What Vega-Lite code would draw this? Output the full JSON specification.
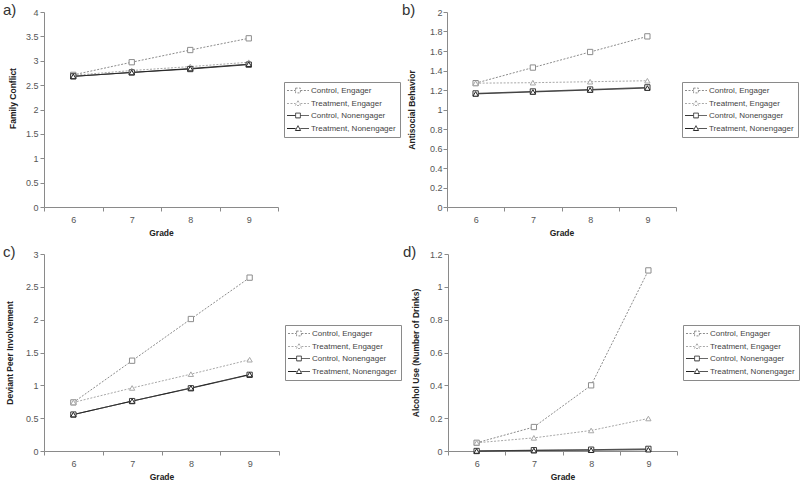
{
  "$schema": "https://vega.github.io/schema/vega-lite/v6.json",
  "background": "white",
  "padding": {"left": 3, "top": 3, "right": 0, "bottom": 0},
  "config": {
    "font": "Liberation Sans, Arial, sans-serif",
    "view": {"stroke": null},
    "axis": {"grid": false, "domainColor": "#8a8a8a", "tickColor": "#8a8a8a", "tickSize": 4, "labelColor": "#555555", "labelFontSize": 9, "titleFontSize": 8.5, "titleFontWeight": "bold", "titleColor": "#222222", "labelPadding": 2, "titlePadding": 8},
    "axisX": {"labelPadding": 4, "titlePadding": 4},
    "legend": {"labelFontSize": 8, "labelColor": "#444444", "strokeColor": "#8a8a8a", "fillColor": "white", "padding": 4, "rowPadding": 3, "symbolSize": 64, "symbolStrokeWidth": 1, "symbolOffset": 5.5, "labelOffset": 8.5, "labelLimit": 200},
    "title": {"fontSize": 15, "fontWeight": "normal", "color": "#333333", "anchor": "start", "frame": "group", "offset": -10}
  },
  "datasets": {
    "a": [
      {"grade": 6, "value": 2.71, "series": "Control, Engager", "condition": "Control", "engagement": "Engager"},
      {"grade": 7, "value": 2.97, "series": "Control, Engager", "condition": "Control", "engagement": "Engager"},
      {"grade": 8, "value": 3.22, "series": "Control, Engager", "condition": "Control", "engagement": "Engager"},
      {"grade": 9, "value": 3.46, "series": "Control, Engager", "condition": "Control", "engagement": "Engager"},
      {"grade": 6, "value": 2.70, "series": "Treatment, Engager", "condition": "Treatment", "engagement": "Engager"},
      {"grade": 7, "value": 2.80, "series": "Treatment, Engager", "condition": "Treatment", "engagement": "Engager"},
      {"grade": 8, "value": 2.88, "series": "Treatment, Engager", "condition": "Treatment", "engagement": "Engager"},
      {"grade": 9, "value": 2.97, "series": "Treatment, Engager", "condition": "Treatment", "engagement": "Engager"},
      {"grade": 6, "value": 2.68, "series": "Control, Nonengager", "condition": "Control", "engagement": "Nonengager"},
      {"grade": 7, "value": 2.76, "series": "Control, Nonengager", "condition": "Control", "engagement": "Nonengager"},
      {"grade": 8, "value": 2.83, "series": "Control, Nonengager", "condition": "Control", "engagement": "Nonengager"},
      {"grade": 9, "value": 2.92, "series": "Control, Nonengager", "condition": "Control", "engagement": "Nonengager"},
      {"grade": 6, "value": 2.68, "series": "Treatment, Nonengager", "condition": "Treatment", "engagement": "Nonengager"},
      {"grade": 7, "value": 2.76, "series": "Treatment, Nonengager", "condition": "Treatment", "engagement": "Nonengager"},
      {"grade": 8, "value": 2.84, "series": "Treatment, Nonengager", "condition": "Treatment", "engagement": "Nonengager"},
      {"grade": 9, "value": 2.93, "series": "Treatment, Nonengager", "condition": "Treatment", "engagement": "Nonengager"}
    ],
    "b": [
      {"grade": 6, "value": 1.27, "series": "Control, Engager", "condition": "Control", "engagement": "Engager"},
      {"grade": 7, "value": 1.43, "series": "Control, Engager", "condition": "Control", "engagement": "Engager"},
      {"grade": 8, "value": 1.59, "series": "Control, Engager", "condition": "Control", "engagement": "Engager"},
      {"grade": 9, "value": 1.75, "series": "Control, Engager", "condition": "Control", "engagement": "Engager"},
      {"grade": 6, "value": 1.27, "series": "Treatment, Engager", "condition": "Treatment", "engagement": "Engager"},
      {"grade": 7, "value": 1.275, "series": "Treatment, Engager", "condition": "Treatment", "engagement": "Engager"},
      {"grade": 8, "value": 1.285, "series": "Treatment, Engager", "condition": "Treatment", "engagement": "Engager"},
      {"grade": 9, "value": 1.295, "series": "Treatment, Engager", "condition": "Treatment", "engagement": "Engager"},
      {"grade": 6, "value": 1.165, "series": "Control, Nonengager", "condition": "Control", "engagement": "Nonengager"},
      {"grade": 7, "value": 1.185, "series": "Control, Nonengager", "condition": "Control", "engagement": "Nonengager"},
      {"grade": 8, "value": 1.205, "series": "Control, Nonengager", "condition": "Control", "engagement": "Nonengager"},
      {"grade": 9, "value": 1.227, "series": "Control, Nonengager", "condition": "Control", "engagement": "Nonengager"},
      {"grade": 6, "value": 1.16, "series": "Treatment, Nonengager", "condition": "Treatment", "engagement": "Nonengager"},
      {"grade": 7, "value": 1.18, "series": "Treatment, Nonengager", "condition": "Treatment", "engagement": "Nonengager"},
      {"grade": 8, "value": 1.20, "series": "Treatment, Nonengager", "condition": "Treatment", "engagement": "Nonengager"},
      {"grade": 9, "value": 1.22, "series": "Treatment, Nonengager", "condition": "Treatment", "engagement": "Nonengager"}
    ],
    "c": [
      {"grade": 6, "value": 0.74, "series": "Control, Engager", "condition": "Control", "engagement": "Engager"},
      {"grade": 7, "value": 1.375, "series": "Control, Engager", "condition": "Control", "engagement": "Engager"},
      {"grade": 8, "value": 2.01, "series": "Control, Engager", "condition": "Control", "engagement": "Engager"},
      {"grade": 9, "value": 2.64, "series": "Control, Engager", "condition": "Control", "engagement": "Engager"},
      {"grade": 6, "value": 0.74, "series": "Treatment, Engager", "condition": "Treatment", "engagement": "Engager"},
      {"grade": 7, "value": 0.96, "series": "Treatment, Engager", "condition": "Treatment", "engagement": "Engager"},
      {"grade": 8, "value": 1.17, "series": "Treatment, Engager", "condition": "Treatment", "engagement": "Engager"},
      {"grade": 9, "value": 1.39, "series": "Treatment, Engager", "condition": "Treatment", "engagement": "Engager"},
      {"grade": 6, "value": 0.555, "series": "Control, Nonengager", "condition": "Control", "engagement": "Nonengager"},
      {"grade": 7, "value": 0.76, "series": "Control, Nonengager", "condition": "Control", "engagement": "Nonengager"},
      {"grade": 8, "value": 0.955, "series": "Control, Nonengager", "condition": "Control", "engagement": "Nonengager"},
      {"grade": 9, "value": 1.16, "series": "Control, Nonengager", "condition": "Control", "engagement": "Nonengager"},
      {"grade": 6, "value": 0.555, "series": "Treatment, Nonengager", "condition": "Treatment", "engagement": "Nonengager"},
      {"grade": 7, "value": 0.76, "series": "Treatment, Nonengager", "condition": "Treatment", "engagement": "Nonengager"},
      {"grade": 8, "value": 0.96, "series": "Treatment, Nonengager", "condition": "Treatment", "engagement": "Nonengager"},
      {"grade": 9, "value": 1.165, "series": "Treatment, Nonengager", "condition": "Treatment", "engagement": "Nonengager"}
    ],
    "d": [
      {"grade": 6, "value": 0.05, "series": "Control, Engager", "condition": "Control", "engagement": "Engager"},
      {"grade": 7, "value": 0.146, "series": "Control, Engager", "condition": "Control", "engagement": "Engager"},
      {"grade": 8, "value": 0.40, "series": "Control, Engager", "condition": "Control", "engagement": "Engager"},
      {"grade": 9, "value": 1.10, "series": "Control, Engager", "condition": "Control", "engagement": "Engager"},
      {"grade": 6, "value": 0.05, "series": "Treatment, Engager", "condition": "Treatment", "engagement": "Engager"},
      {"grade": 7, "value": 0.08, "series": "Treatment, Engager", "condition": "Treatment", "engagement": "Engager"},
      {"grade": 8, "value": 0.125, "series": "Treatment, Engager", "condition": "Treatment", "engagement": "Engager"},
      {"grade": 9, "value": 0.198, "series": "Treatment, Engager", "condition": "Treatment", "engagement": "Engager"},
      {"grade": 6, "value": 0.0, "series": "Control, Nonengager", "condition": "Control", "engagement": "Nonengager"},
      {"grade": 7, "value": 0.005, "series": "Control, Nonengager", "condition": "Control", "engagement": "Nonengager"},
      {"grade": 8, "value": 0.008, "series": "Control, Nonengager", "condition": "Control", "engagement": "Nonengager"},
      {"grade": 9, "value": 0.013, "series": "Control, Nonengager", "condition": "Control", "engagement": "Nonengager"},
      {"grade": 6, "value": 0.0, "series": "Treatment, Nonengager", "condition": "Treatment", "engagement": "Nonengager"},
      {"grade": 7, "value": 0.003, "series": "Treatment, Nonengager", "condition": "Treatment", "engagement": "Nonengager"},
      {"grade": 8, "value": 0.005, "series": "Treatment, Nonengager", "condition": "Treatment", "engagement": "Nonengager"},
      {"grade": 9, "value": 0.008, "series": "Treatment, Nonengager", "condition": "Treatment", "engagement": "Nonengager"}
    ]
  },
  "resolve": {"scale": {"color": "independent", "shape": "independent", "strokeDash": "independent", "y": "independent", "x": "independent"}, "legend": {"color": "independent", "shape": "independent", "strokeDash": "independent"}},
  "spacing": 8,
  "vconcat": [
    {
      "spacing": 1,
      "resolve": {"scale": {"color": "independent", "shape": "independent", "strokeDash": "independent", "y": "independent", "x": "independent"}, "legend": {"color": "independent", "shape": "independent", "strokeDash": "independent"}},
      "hconcat": [
        {
          "title": {"text": "a)", "dx": -41},
          "width": 234, "height": 195,
          "data": {"name": "a"},
          "encoding": {
            "x": {"field": "grade", "type": "ordinal", "scale": {"type": "band", "paddingInner": 0, "paddingOuter": 0}, "axis": {"title": "Grade", "labelAngle": 0, "tickBand": "extent"}},
            "y": {"field": "value", "type": "quantitative", "scale": {"domain": [0, 4]}, "axis": {"title": "Family Conflict", "titlePadding": 8, "titleY": 86, "values": [0, 0.5, 1, 1.5, 2, 2.5, 3, 3.5, 4], "format": "~g"}},
            "color": {"field": "series", "type": "nominal", "scale": {"domain": ["Control, Engager", "Treatment, Engager", "Control, Nonengager", "Treatment, Nonengager"], "range": ["#8c8c8c", "#a8a8a8", "#3a3a3a", "#222222"]},
              "legend": {"title": null, "orient": "none", "legendX": 240, "legendY": 70,
                "encode": {"symbols": {"update": {"shape": {"signal": "indexof(['Control, Engager','Control, Nonengager'], datum.value) >= 0 ? 'M-2.75,0H-0.6M0.6,0H2.75M-0.6,-0.6H0.6V0.6H-0.6Z' : 'M-2.75,0H-0.6M0.6,0H2.75M0,-0.7L0.65,0.5H-0.65Z'"}, "strokeDash": {"signal": "indexof(['Control, Engager','Treatment, Engager'], datum.value) >= 0 ? [2, 1.5] : [1, 0]"}, "fill": {"value": "white"}, "strokeWidth": {"value": 1}}}}}}
          },
          "layer": [
            {"mark": {"type": "line", "strokeWidth": 1}, "encoding": {"strokeDash": {"field": "engagement", "type": "nominal", "legend": null, "scale": {"domain": ["Engager", "Nonengager"], "range": [[2, 1.5], [1, 0]]}}}},
            {"mark": {"type": "point", "filled": false, "fill": "white", "fillOpacity": 1, "opacity": 1, "size": 28, "strokeWidth": 1}, "encoding": {"shape": {"field": "condition", "type": "nominal", "legend": null, "scale": {"domain": ["Control", "Treatment"], "range": ["square", "triangle-up"]}}}}
          ]
        },
        {
          "title": {"text": "b)", "dx": -45},
          "width": 229, "height": 195,
          "data": {"name": "b"},
          "encoding": {
            "x": {"field": "grade", "type": "ordinal", "scale": {"type": "band", "paddingInner": 0, "paddingOuter": 0}, "axis": {"title": "Grade", "labelAngle": 0, "tickBand": "extent"}},
            "y": {"field": "value", "type": "quantitative", "scale": {"domain": [0, 2]}, "axis": {"title": "Antisocial Behavior", "titlePadding": 13, "labelPadding": 1, "values": [0, 0.2, 0.4, 0.6, 0.8, 1, 1.2, 1.4, 1.6, 1.8, 2], "format": "~g"}},
            "color": {"field": "series", "type": "nominal", "scale": {"domain": ["Control, Engager", "Treatment, Engager", "Control, Nonengager", "Treatment, Nonengager"], "range": ["#8c8c8c", "#a8a8a8", "#3a3a3a", "#222222"]},
              "legend": {"title": null, "orient": "none", "legendX": 235, "legendY": 70,
                "encode": {"symbols": {"update": {"shape": {"signal": "indexof(['Control, Engager','Control, Nonengager'], datum.value) >= 0 ? 'M-2.75,0H-0.6M0.6,0H2.75M-0.6,-0.6H0.6V0.6H-0.6Z' : 'M-2.75,0H-0.6M0.6,0H2.75M0,-0.7L0.65,0.5H-0.65Z'"}, "strokeDash": {"signal": "indexof(['Control, Engager','Treatment, Engager'], datum.value) >= 0 ? [2, 1.5] : [1, 0]"}, "fill": {"value": "white"}, "strokeWidth": {"value": 1}}}}}}
          },
          "layer": [
            {"mark": {"type": "line", "strokeWidth": 1}, "encoding": {"strokeDash": {"field": "engagement", "type": "nominal", "legend": null, "scale": {"domain": ["Engager", "Nonengager"], "range": [[2, 1.5], [1, 0]]}}}},
            {"mark": {"type": "point", "filled": false, "fill": "white", "fillOpacity": 1, "opacity": 1, "size": 28, "strokeWidth": 1}, "encoding": {"shape": {"field": "condition", "type": "nominal", "legend": null, "scale": {"domain": ["Control", "Treatment"], "range": ["square", "triangle-up"]}}}}
          ]
        }
      ]
    },
    {
      "spacing": 1,
      "resolve": {"scale": {"color": "independent", "shape": "independent", "strokeDash": "independent", "y": "independent", "x": "independent"}, "legend": {"color": "independent", "shape": "independent", "strokeDash": "independent"}},
      "hconcat": [
        {
          "title": {"text": "c)", "dx": -41},
          "width": 235, "height": 197,
          "data": {"name": "c"},
          "encoding": {
            "x": {"field": "grade", "type": "ordinal", "scale": {"type": "band", "paddingInner": 0, "paddingOuter": 0}, "axis": {"title": "Grade", "labelAngle": 0, "tickBand": "extent"}},
            "y": {"field": "value", "type": "quantitative", "scale": {"domain": [0, 3]}, "axis": {"title": "Deviant Peer Involvement", "titlePadding": 11, "values": [0, 0.5, 1, 1.5, 2, 2.5, 3], "format": "~g"}},
            "color": {"field": "series", "type": "nominal", "scale": {"domain": ["Control, Engager", "Treatment, Engager", "Control, Nonengager", "Treatment, Nonengager"], "range": ["#8c8c8c", "#a8a8a8", "#3a3a3a", "#222222"]},
              "legend": {"title": null, "orient": "none", "legendX": 241, "legendY": 71,
                "encode": {"symbols": {"update": {"shape": {"signal": "indexof(['Control, Engager','Control, Nonengager'], datum.value) >= 0 ? 'M-2.75,0H-0.6M0.6,0H2.75M-0.6,-0.6H0.6V0.6H-0.6Z' : 'M-2.75,0H-0.6M0.6,0H2.75M0,-0.7L0.65,0.5H-0.65Z'"}, "strokeDash": {"signal": "indexof(['Control, Engager','Treatment, Engager'], datum.value) >= 0 ? [2, 1.5] : [1, 0]"}, "fill": {"value": "white"}, "strokeWidth": {"value": 1}}}}}}
          },
          "layer": [
            {"mark": {"type": "line", "strokeWidth": 1}, "encoding": {"strokeDash": {"field": "engagement", "type": "nominal", "legend": null, "scale": {"domain": ["Engager", "Nonengager"], "range": [[2, 1.5], [1, 0]]}}}},
            {"mark": {"type": "point", "filled": false, "fill": "white", "fillOpacity": 1, "opacity": 1, "size": 28, "strokeWidth": 1}, "encoding": {"shape": {"field": "condition", "type": "nominal", "legend": null, "scale": {"domain": ["Control", "Treatment"], "range": ["square", "triangle-up"]}}}}
          ]
        },
        {
          "title": {"text": "d)", "dx": -45},
          "width": 229, "height": 197,
          "data": {"name": "d"},
          "encoding": {
            "x": {"field": "grade", "type": "ordinal", "scale": {"type": "band", "paddingInner": 0, "paddingOuter": 0}, "axis": {"title": "Grade", "labelAngle": 0, "tickBand": "extent"}},
            "y": {"field": "value", "type": "quantitative", "scale": {"domain": [0, 1.2]}, "axis": {"title": "Alcohol Use (Number of Drinks)", "titlePadding": 9, "values": [0, 0.2, 0.4, 0.6, 0.8, 1, 1.2], "format": "~g"}},
            "color": {"field": "series", "type": "nominal", "scale": {"domain": ["Control, Engager", "Treatment, Engager", "Control, Nonengager", "Treatment, Nonengager"], "range": ["#8c8c8c", "#a8a8a8", "#3a3a3a", "#222222"]},
              "legend": {"title": null, "orient": "none", "legendX": 235, "legendY": 71,
                "encode": {"symbols": {"update": {"shape": {"signal": "indexof(['Control, Engager','Control, Nonengager'], datum.value) >= 0 ? 'M-2.75,0H-0.6M0.6,0H2.75M-0.6,-0.6H0.6V0.6H-0.6Z' : 'M-2.75,0H-0.6M0.6,0H2.75M0,-0.7L0.65,0.5H-0.65Z'"}, "strokeDash": {"signal": "indexof(['Control, Engager','Treatment, Engager'], datum.value) >= 0 ? [2, 1.5] : [1, 0]"}, "fill": {"value": "white"}, "strokeWidth": {"value": 1}}}}}}
          },
          "layer": [
            {"mark": {"type": "line", "strokeWidth": 1}, "encoding": {"strokeDash": {"field": "engagement", "type": "nominal", "legend": null, "scale": {"domain": ["Engager", "Nonengager"], "range": [[2, 1.5], [1, 0]]}}}},
            {"mark": {"type": "point", "filled": false, "fill": "white", "fillOpacity": 1, "opacity": 1, "size": 28, "strokeWidth": 1}, "encoding": {"shape": {"field": "condition", "type": "nominal", "legend": null, "scale": {"domain": ["Control", "Treatment"], "range": ["square", "triangle-up"]}}}}
          ]
        }
      ]
    }
  ]
}
